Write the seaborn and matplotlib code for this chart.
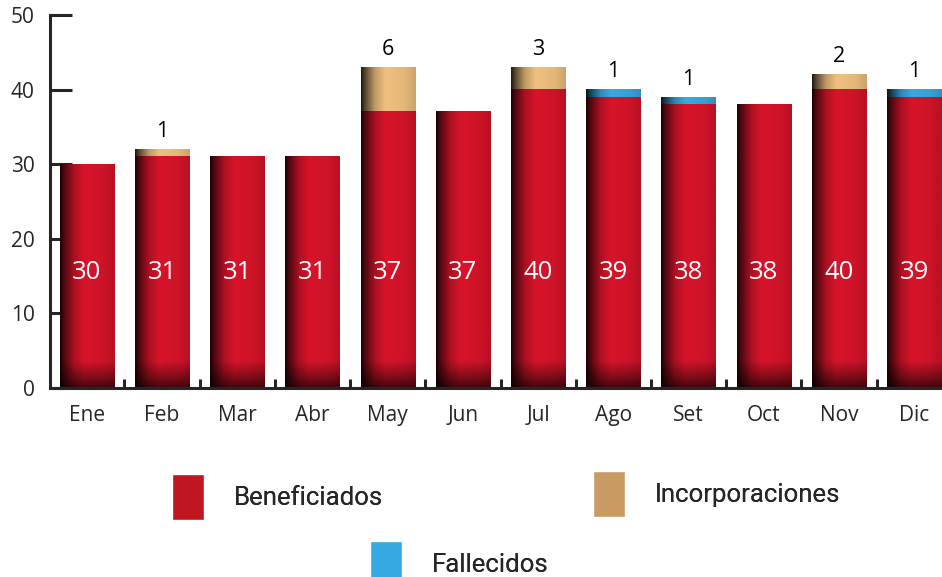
import numpy as np
import pandas as pd
import matplotlib
matplotlib.use("Agg")
import matplotlib.pyplot as plt
import matplotlib.colors as mcolors
import seaborn as sns
from matplotlib.patches import Patch

# data
meses = ["Ene", "Feb", "Mar", "Abr", "May", "Jun", "Jul", "Ago", "Set", "Oct", "Nov", "Dic"]
beneficiados = [30, 31, 31, 31, 37, 37, 40, 39, 38, 38, 40, 39]
incorporaciones = [0, 1, 0, 0, 6, 0, 3, 0, 0, 0, 2, 0]
fallecidos = [0, 0, 0, 0, 0, 0, 0, 1, 1, 0, 0, 1]

rojo = "#d8142a"
tan = "#f0c080"
azul = "#3aa9e0"

df = pd.DataFrame({"mes": meses, "ben": beneficiados,
                   "inc": incorporaciones, "fal": fallecidos})
df["tot_fal"] = df["ben"] + df["fal"]
df["tot_inc"] = df["ben"] + df["inc"]

sns.set_style("white")
plt.rcParams["font.family"] = ["Open Sans", "DejaVu Sans"]

fig = plt.figure(figsize=(9.42, 5.77), dpi=100)
ax = fig.add_axes([50 / 942, 189 / 577, 892 / 942, 373 / 577])

# stacked bars: draw totals first, base layer on top
sns.barplot(data=df, x="mes", y="tot_fal", color=azul, width=0.72, saturation=1,
            linewidth=0, ax=ax)
sns.barplot(data=df, x="mes", y="tot_inc", color=tan, width=0.72, saturation=1,
            linewidth=0, ax=ax)
sns.barplot(data=df, x="mes", y="ben", color=rojo, width=0.72, saturation=1,
            linewidth=0, ax=ax)

# 3d-like shading on the bars
xs = np.linspace(0, 1, 40)
fx = np.interp(xs, [0, 0.06, 0.25, 0.45, 0.8, 1.0], [0.15, 0.35, 0.8, 1.0, 0.95, 0.85])
for p in list(ax.patches):
    x0, y0 = p.get_x(), p.get_y()
    w, h = p.get_width(), p.get_height()
    if h <= 0:
        continue
    rgb = np.array(mcolors.to_rgb(p.get_facecolor()))
    ys = np.linspace(0, h, 80)
    if y0 == 0 and h > 10:
        fy = np.interp(ys, [0, 1.2, 3.5, h], [0.35, 0.6, 1.0, 1.0])
    else:
        fy = np.interp(ys, [0, h * 0.25, h * 0.6, h], [0.55, 0.85, 1.0, 1.0])
    f = np.outer(fy[::-1], fx)
    img = np.clip(f[..., None] * rgb[None, None, :], 0, 1)
    ax.imshow(img, aspect="auto", extent=(x0, x0 + w, y0, y0 + h),
              zorder=p.get_zorder() + 0.1, interpolation="bilinear")

# labels
for i, v in enumerate(beneficiados):
    ax.text(i, 15.5, str(v), ha="center", va="center", color="white", fontsize=18.5,
            zorder=5)
for i in range(len(meses)):
    extra = incorporaciones[i] + fallecidos[i]
    if extra > 0:
        ax.text(i, beneficiados[i] + extra + 1.0, str(extra), ha="center", va="bottom",
                color="black", fontsize=15.5)

ax.set_xlim(-0.49, 11.37)
ax.set_ylim(0, 50)
ax.set_yticks(range(0, 51, 10))
ax.set_xlabel("")
ax.set_ylabel("")
ax.set_xticks(np.arange(0.5, 11, 1), minor=True)

sns.despine(ax=ax, top=True, right=True)
ax.spines["left"].set_linewidth(2.2)
ax.spines["bottom"].set_linewidth(2.2)
ax.tick_params(axis="y", direction="in", length=16, width=2.2, pad=11, labelsize=15, left=True)
ax.tick_params(axis="x", which="major", length=0, pad=12, labelsize=15)
ax.tick_params(axis="x", which="minor", direction="in", length=6.5, width=2.2, bottom=True)
ax.set_facecolor("none")

# legend
leg_font = {"family": ["Roboto", "DejaVu Sans"], "size": 18.5}
items = [("Beneficiados", "#c0161f", 172 / 942, 497 / 577),
         ("Incorporaciones", "#c89b63", 593 / 942, 494 / 577),
         ("Fallecidos", "#36a9e0", 370 / 942, 564 / 577)]
for lab, col, lx, ly in items:
    lg = fig.legend(handles=[Patch(facecolor=col, label=lab)], loc="center left",
                    bbox_to_anchor=(lx, 1 - ly), frameon=False, prop=leg_font,
                    handlelength=1.25, handleheight=2.4, handletextpad=1.15,
                    borderpad=0, borderaxespad=0)
    fig.add_artist(lg)

fig.savefig("out.png", dpi=100)
